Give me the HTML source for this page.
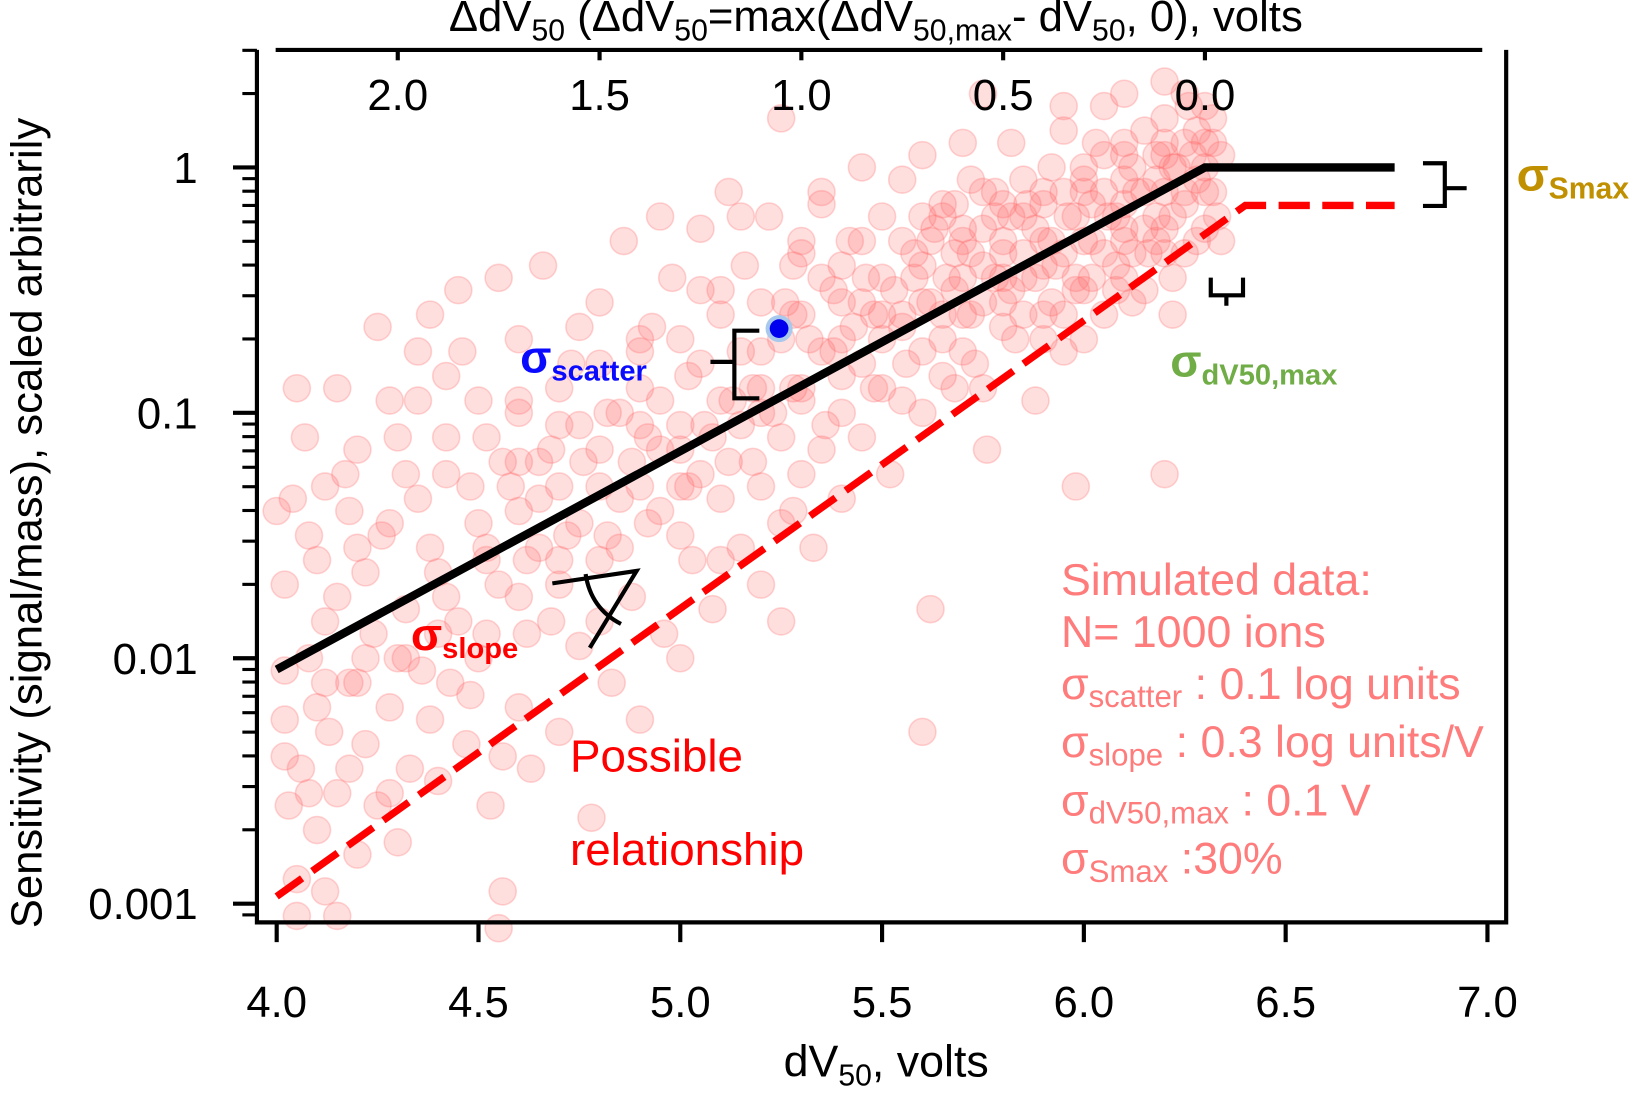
<!DOCTYPE html>
<html><head><meta charset="utf-8"><style>
html,body{margin:0;padding:0;background:#fff;}
svg{display:block;font-family:"Liberation Sans",Arial,sans-serif;}
</style></head><body>
<svg id="chart" width="1631" height="1095" viewBox="0 0 1568 1053" preserveAspectRatio="none">
<g id="points"></g>
<g id="axes"></g>
<g id="lines"></g>
<g>
<text x="500" y="358" fill="#0a0aff" font-weight="bold" font-size="44">σ<tspan font-size="28" dy="8">scatter</tspan></text>
<path d="M730,318 H706 V383 H730 M706,348 H683" stroke="#000" stroke-width="4" fill="none"/>
<circle cx="749" cy="316" r="13" fill="#a8c8ec"/>
<circle cx="749" cy="316" r="9" fill="#0000ee"/>
</g>
<g>
<text x="395" y="625" fill="#ff0000" font-weight="bold" font-size="44">σ<tspan font-size="28" dy="8">slope</tspan></text>
<path d="M531,561 L612,549 L567,623 M563,552 Q568,585 597,600" stroke="#000" stroke-width="4" fill="none"/>
</g>
<text x="548" y="742" fill="#ff0000" font-size="44">Possible</text>
<text x="548" y="832" fill="#ff0000" font-size="44">relationship</text>
<g>
<path d="M1368,157 H1389 V198 H1368 M1389,181 H1410" stroke="#000" stroke-width="4" fill="none"/>
<text x="1458" y="183" fill="#c09000" font-weight="bold" font-size="45">σ<tspan font-size="29" dy="8">Smax</tspan></text>
</g>
<g>
<path d="M1164,267 V284 H1195 V267 M1179,284 V294" stroke="#000" stroke-width="4" fill="none"/>
<text x="1125" y="362" fill="#70ad47" font-weight="bold" font-size="44">σ<tspan font-size="28" dy="8">dV50,max</tspan></text>
</g>
<g fill="#ff7c7c" font-size="43">
<text x="1020" y="572">Simulated data:</text>
<text x="1020" y="622">N= 1000 ions</text>
<text x="1020" y="672">σ<tspan font-size="30" dy="8">scatter</tspan><tspan dy="-8"> : 0.1 log units</tspan></text>
<text x="1020" y="728">σ<tspan font-size="30" dy="8">slope</tspan><tspan dy="-8"> : 0.3 log units/V</tspan></text>
<text x="1020" y="784">σ<tspan font-size="30" dy="8">dV50,max</tspan><tspan dy="-8"> : 0.1 V</tspan></text>
<text x="1020" y="840">σ<tspan font-size="30" dy="8">Smax</tspan><tspan dy="-8">  :30%</tspan></text>
</g>
<text x="852" y="1035" text-anchor="middle" font-size="43">dV<tspan font-size="29" dy="9">50</tspan><tspan dy="-9">, volts</tspan></text>
<text x="842" y="30" text-anchor="middle" font-size="42">ΔdV<tspan font-size="29" dy="9">50</tspan><tspan dy="-9"> (ΔdV</tspan><tspan font-size="29" dy="9">50</tspan><tspan dy="-9">=max(ΔdV</tspan><tspan font-size="29" dy="9">50,max</tspan><tspan dy="-9">- dV</tspan><tspan font-size="29" dy="9">50</tspan><tspan dy="-9">, 0), volts</tspan></text>
<text transform="translate(40,503) rotate(-90)" text-anchor="middle" font-size="42">Sensitivity (signal/mass), scaled arbitrarily</text>
</svg>
<script>
const NS='http://www.w3.org/2000/svg';
const xTicks=[4.0,4.5,5.0,5.5,6.0,6.5,7.0];
const xTickLabels=['4.0','4.5','5.0','5.5','6.0','6.5','7.0'];
const yDecades=[0,-1,-2,-3];
const yTickLabels=['1','0.1','0.01','0.001'];
const topTicks=[2.0,1.5,1.0,0.5,0.0];
const topTickLabels=['2.0','1.5','1.0','0.5','0.0'];
const dV50max=6.3;
const solidX=[4.0,6.3,6.77];
const solidY=[0.009,1.0,1.0];
const dashX=[4.0,6.4,6.77];
const dashY=[0.00107,0.7,0.7];
const ptX=[4.00,4.02,4.03,4.05,4.04,4.06,4.08,4.1,4.1,4.12,4.13,4.15,4.15,4.17,4.18,4.2,4.2,4.22,4.24,4.25,4.26,4.28,4.3,4.3,4.32,4.33,4.35,4.36,4.38,4.4,4.4,4.42,4.43,4.45,4.46,4.47,4.5,4.5,4.52,4.53,4.55,4.56,4.58,4.6,4.6,4.62,4.63,4.65,4.66,4.68,4.7,4.7,4.72,4.73,4.75,4.76,4.78,4.8,4.8,4.82,4.83,4.85,4.86,4.88,4.9,4.9,4.92,4.93,4.95,4.96,4.98,5.0,5.0,5.02,5.03,5.05,5.06,5.08,5.1,5.1,5.12,5.13,5.15,5.16,5.18,5.2,5.2,5.22,5.23,5.25,5.26,5.28,5.3,5.3,5.32,5.33,5.35,5.36,5.38,5.4,5.4,5.42,5.43,5.45,5.46,5.48,5.5,5.5,5.52,5.53,5.55,5.56,5.58,5.6,5.6,5.62,5.63,5.65,5.66,5.68,5.7,5.7,5.72,5.73,5.75,5.76,5.78,5.8,5.8,5.82,5.83,5.85,5.86,5.88,5.9,5.9,5.92,5.93,5.95,5.96,5.98,6.0,6.0,6.02,6.03,6.05,6.06,6.08,6.1,6.1,6.12,6.13,6.15,6.16,6.18,6.2,6.2,6.22,6.23,6.25,6.26,6.28,6.3,6.3,6.32,6.33,6.22,6.05,5.95,5.7,5.6,5.45,5.35,5.25,5.15,5.05,4.95,4.9,4.75,4.6,4.55,4.45,4.35,4.25,4.15,4.05,4.07,4.12,4.2,4.28,4.35,4.42,4.5,4.6,4.68,4.8,4.88,5.0,5.08,5.18,5.28,5.4,5.55,5.65,5.75,5.85,5.98,6.1,6.18,6.27,6.2,6.1,6.0,5.9,5.8,5.68,5.58,5.48,5.38,5.3,5.2,5.12,5.02,4.92,4.82,4.7,4.62,4.52,4.4,4.3,4.2,4.1,4.02,5.6,5.25,4.55,4.05,4.15,6.2,
5.30,5.30,5.30,5.35,5.35,5.35,5.4,5.4,5.4,5.45,5.45,5.45,5.5,5.5,5.5,5.55,5.55,5.55,5.6,5.6,5.6,5.62,5.62,5.65,5.65,5.65,5.68,5.68,5.7,5.7,5.7,5.72,5.72,5.75,5.75,5.75,5.78,5.78,5.8,5.8,5.8,5.82,5.82,5.85,5.85,5.85,5.88,5.88,5.9,5.9,5.9,5.92,5.92,5.95,5.95,5.95,5.98,5.98,6.0,6.0,6.0,6.02,6.02,6.05,6.05,6.05,6.08,6.08,6.1,6.1,6.1,6.12,6.12,6.15,6.15,6.15,6.18,6.18,6.2,6.2,6.2,6.22,6.22,6.25,6.25,6.25,6.28,6.28,6.3,6.3,6.3,6.32,6.32,6.34,6.34,
4.6,4.6,4.6,4.65,4.65,4.7,4.7,4.7,4.75,4.75,4.8,4.8,4.8,4.85,4.85,4.9,4.9,4.9,4.95,4.95,5.0,5.0,5.0,5.05,5.05,5.1,5.1,5.1,5.15,5.15,5.2,5.2,5.2,5.25,5.25,5.28,5.28,
4.02,4.02,4.08,4.08,4.12,4.12,4.18,4.18,4.22,4.22,4.28,4.28,4.32,4.32,4.38,4.38,4.42,4.42,4.48,4.48,4.52,4.52,4.56,4.56,
6.1,6.2,5.95,5.75,6.25];
const ptLogS=[-1.4,-2.25,-2.6,-2.9,-1.35,-2.45,-2.0,-2.7,-1.6,-2.95,-2.3,-1.75,-2.55,-1.25,-2.1,-2.8,-1.55,-2.35,-1.9,-2.6,-1.5,-2.2,-1.1,-2.75,-1.8,-2.45,-1.35,-2.05,-0.6,-1.65,-2.5,-1.25,-2.1,-1.85,-0.75,-2.35,-1.45,-2.0,-1.1,-2.6,-1.7,-2.95,-1.3,-2.2,-0.95,-1.6,-2.45,-1.35,-0.4,-1.85,-1.05,-2.3,-1.5,-0.8,-1.95,-1.2,-2.65,-0.55,-1.6,-1.0,-2.1,-1.35,-0.3,-1.75,-0.9,-2.25,-1.45,-0.65,-1.15,-1.9,-0.45,-1.3,-2.0,-0.85,-1.6,-0.25,-1.05,-1.8,-0.6,-1.35,-0.1,-0.95,-1.55,-0.4,-1.2,-0.75,-1.7,-0.2,-1.0,-1.45,-0.55,-0.9,-1.25,-0.35,-0.7,-1.55,-0.15,-1.05,-0.5,-0.85,-1.35,-0.3,-0.65,-1.1,-0.45,-0.9,-0.2,-0.7,-1.25,-0.5,-0.05,-0.8,-0.35,-1.0,-0.55,-1.8,-0.25,-0.7,-0.45,-0.9,-0.3,-0.6,-0.05,-0.8,-0.4,-1.15,-0.2,-0.55,-0.35,0.1,-0.7,-0.45,-0.15,-0.95,-0.3,-0.6,0.0,-0.4,-0.75,-0.2,-1.3,-0.1,-0.5,-0.3,0.1,-0.6,-0.2,-0.4,0.05,-0.3,-0.55,-0.1,0.15,-0.35,-0.05,-0.25,0.2,-0.45,0.0,-0.15,0.25,-0.3,0.1,-0.1,0.2,-0.2,-0.6,0.25,0.15,0.1,0.05,0.0,-0.1,0.2,-0.2,-0.5,-0.2,-0.75,-0.65,-0.7,-0.45,-0.5,-0.75,-0.65,-0.9,-0.9,-1.1,-1.3,-1.15,-0.95,-0.95,-0.85,-0.95,-1.2,-1.15,-1.3,-1.2,-1.05,-1.1,-0.9,-0.6,-0.55,-0.6,-0.15,-0.1,-0.2,-0.5,-0.15,-0.3,0.05,0.05,0.1,0.0,-0.1,-0.15,-0.35,-0.45,-0.6,-0.75,-0.9,-1.0,-1.2,-1.3,-1.1,-1.5,-1.7,-1.9,-1.6,-1.9,-2.0,-2.1,-2.2,-2.05,-2.3,-1.85,-3.1,-3.05,-3.05,-1.25,
-0.6,-0.95,-0.3,-0.75,-0.45,-1.15,-0.4,-0.7,-1.0,-0.55,-0.8,-0.3,-0.45,-0.9,-0.6,-0.3,-0.65,-0.95,-0.2,-0.4,-0.75,-0.55,-0.3,-0.6,-0.85,-0.2,-0.5,-0.15,-0.45,-0.75,-0.25,-0.35,-0.6,-0.25,-0.55,-0.9,-0.45,-0.1,-0.3,-0.65,-0.45,-0.2,-0.5,-0.35,-0.6,-0.05,-0.25,-0.45,-0.15,-0.4,-0.7,-0.3,-0.55,-0.1,-0.35,-0.6,-0.2,-0.45,-0.05,-0.3,-0.7,-0.15,-0.45,-0.1,-0.35,0.05,-0.2,-0.5,-0.05,-0.25,-0.45,0.0,-0.35,-0.1,-0.25,-0.5,0.05,-0.2,-0.1,-0.35,0.1,0.0,-0.2,0.1,-0.1,-0.35,0.15,-0.05,0.0,-0.25,0.25,0.1,-0.1,0.05,-0.3,
-1.4,-1.0,-1.75,-1.2,-1.55,-1.3,-0.9,-1.6,-1.05,-1.45,-1.15,-0.8,-1.85,-1.0,-1.55,-1.3,-0.7,-1.05,-0.95,-1.4,-0.7,-1.15,-1.5,-0.8,-1.25,-0.95,-0.5,-1.6,-0.75,-1.05,-0.55,-1.3,-0.9,-0.7,-1.1,-0.4,-1.4,
-1.7,-2.4,-1.5,-2.55,-1.85,-2.1,-1.4,-2.45,-1.65,-2.0,-1.45,-2.55,-1.25,-2.0,-1.55,-2.25,-1.1,-1.75,-1.3,-2.15,-1.55,-1.9,-1.2,-2.4,
0.3,0.35,0.25,0.3,0.3];

const X0=266, XPV=388, Y0=161, YPD=236;
function xs(v){return X0+(v-4)*XPV;}
function ys(s){return Y0-Math.log10(s)*YPD;}
function yl(l){return Y0-l*YPD;}
function mk(tag,attrs,parent){const e=document.createElementNS(NS,tag);for(const k in attrs)e.setAttribute(k,attrs[k]);parent.appendChild(e);return e;}

const gp=document.getElementById('points');
const nPts=Math.min(ptX.length,ptLogS.length);
for(let i=0;i<nPts;i++){
  const c=mk('circle',{cx:xs(ptX[i]),cy:yl(ptLogS[i]),r:13,fill:'rgba(255,105,105,0.22)',stroke:'rgba(255,105,105,0.28)','stroke-width':1.5},gp);
  
  
}

const ga=document.getElementById('axes');
let e;
e=mk('path',{d:'M247,48 V887 H1448 V48',stroke:'#000','stroke-width':4,fill:'none'},ga);


e=mk('line',{x1:265,y1:48,x2:1425,y2:48,stroke:'#000','stroke-width':4},ga);


xTicks.forEach((v,i)=>{
  const t=mk('line',{x1:xs(v),y1:887,x2:xs(v),y2:906,stroke:'#000','stroke-width':4},ga);
  
  
  const l=mk('text',{x:xs(v),y:978,'text-anchor':'middle','font-size':42},ga);
  l.textContent=xTickLabels[i];
  
  
});
topTicks.forEach((v,i)=>{
  const x=xs(dV50max-v);
  const t=mk('line',{x1:x,y1:48,x2:x,y2:58,stroke:'#000','stroke-width':4},ga);
  
  
  const l=mk('text',{x:x,y:106,'text-anchor':'middle','font-size':42},ga);
  l.textContent=topTickLabels[i];
  
  
});
yDecades.forEach((d,i)=>{
  const y=yl(d);
  const t=mk('line',{x1:224,y1:y,x2:247,y2:y,stroke:'#000','stroke-width':4},ga);
  
  
  const l=mk('text',{x:190,y:y+15,'text-anchor':'end','font-size':42},ga);
  l.textContent=yTickLabels[i];
  
  
});
for(let d=-4;d<=0;d++){
  for(let m=2;m<=9;m++){
    const y=yl(d+Math.log10(m));
    if(y<48||y>887)continue;
    const t=mk('line',{x1:233,y1:y,x2:247,y2:y,stroke:'#000','stroke-width':3},ga);
    
    
  }
}

const gl=document.getElementById('lines');
function pts(xa,ya){return xa.map((v,i)=>xs(v)+','+ys(ya[i])).join(' ');}
e=mk('polyline',{points:pts(solidX,solidY),stroke:'#000','stroke-width':8,fill:'none'},gl);


e=mk('polyline',{points:pts(dashX,dashY),stroke:'#ff0000','stroke-width':7,fill:'none','stroke-dasharray':'30 12'},gl);


</script>
</body></html>
